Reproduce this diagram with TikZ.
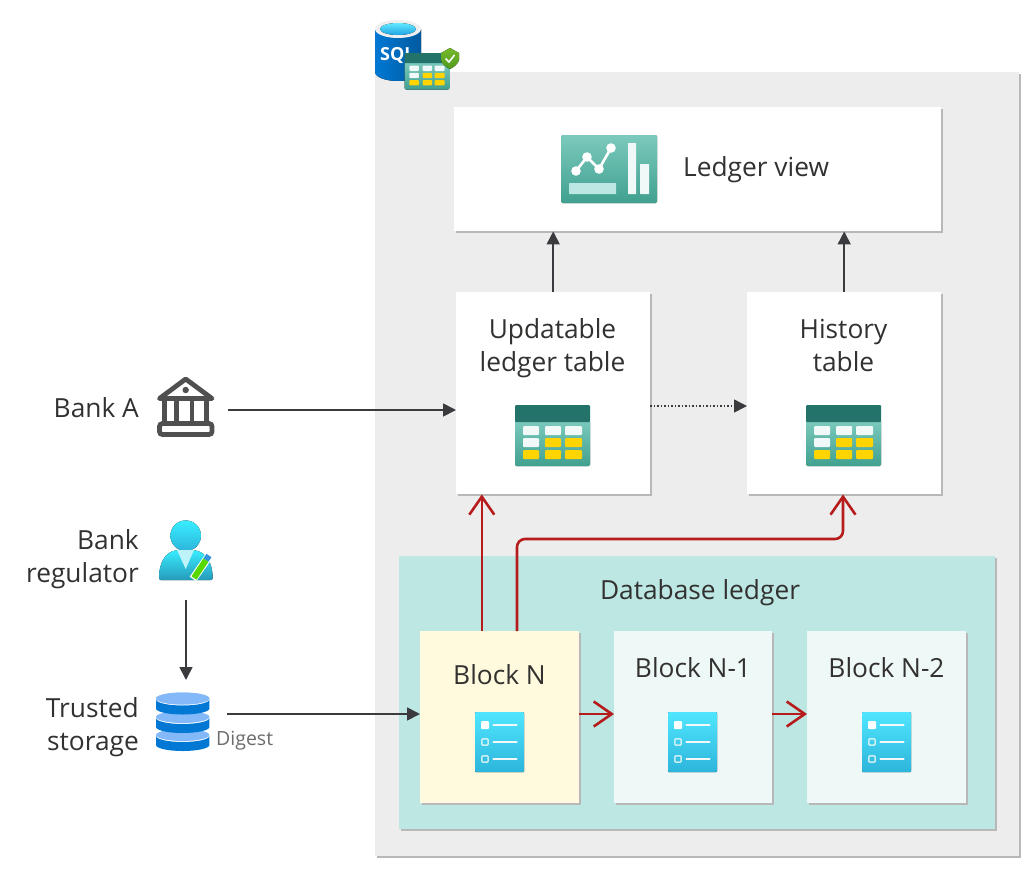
\documentclass[tikz,border=0pt]{standalone}
\usepackage{fontspec}
\setmainfont{Open Sans}
\usepackage{tikz}
\usetikzlibrary{calc,positioning,arrows.meta,shadows}

\definecolor{panelgrey}{HTML}{EDEDED}
\definecolor{edgegrey}{HTML}{B8B8B8}
\definecolor{ledgerteal}{HTML}{BCE7E2}
\definecolor{blockcream}{HTML}{FFF9DE}
\definecolor{blockpale}{HTML}{EEF8F6}
\definecolor{inkgrey}{HTML}{323130}
\definecolor{arrowgrey}{HTML}{3B3A3F}
\definecolor{linkred}{HTML}{B71C1C}
\definecolor{tabledark}{HTML}{23736A}
\definecolor{tabletop}{HTML}{7CCABD}
\definecolor{tablelow}{HTML}{40A090}
\definecolor{cellyellow}{HTML}{FFD400}
\definecolor{cellwhite}{HTML}{F0F9F7}
\definecolor{listtop}{HTML}{50E6FF}
\definecolor{listlow}{HTML}{2DB5DB}
\definecolor{azureblue}{HTML}{0078D4}
\definecolor{azurelight}{HTML}{83B9F9}
\definecolor{shieldtop}{HTML}{76B82A}
\definecolor{shieldlow}{HTML}{4F9A1E}
\definecolor{bankgrey}{HTML}{505050}

\begin{document}
\begin{tikzpicture}[x=1pt,y=-1pt]
\tikzset{panel/.style={rectangle,anchor=north west,inner sep=0,fill=white,
    drop shadow={shadow xshift=1.5pt,shadow yshift=-1.5pt,fill=edgegrey,opacity=1}},
blocklabel/.style={font=\fontsize{26.3}{33.5}\selectfont,text=inkgrey,align=center,inner sep=0},
sidelabel/.style={blocklabel,align=right,anchor=east},
darkarrow/.style={draw=arrowgrey,line width=1.7pt,-{Triangle[length=13pt,width=13pt]}},
redarrow/.style={draw=linkred,line width=2.6pt,-{Straight Barb[length=18pt,width=25pt,line width=2.6pt]}},
iconbox/.style={rectangle,inner sep=0,minimum width=60pt,minimum height=60pt},
pics/gridicon/.style={code={
  \fill[rounded corners=1.5pt,top color=tabletop,bottom color=tablelow] (0,15) rectangle (75,61);
  \fill[tabledark,rounded corners=1pt] (0,0) rectangle (75,17);
  \foreach \cl/\cr/\ct/\cb/\cc in {8/24/21/30/cellwhite,30/46/21/30/cellwhite,50/67/21/30/cellwhite,
    8/24/33/42/cellwhite,30/46/33/42/cellyellow,50/67/33/42/cellyellow,
    8/24/45/54/cellyellow,30/46/45/54/cellyellow,50/67/45/54/cellyellow}
    \fill[\cc,rounded corners=1pt] (\cl,\ct) rectangle (\cr,\cb);
}},
pics/listicon/.style={code={
  \fill[rounded corners=1pt,top color=listtop,bottom color=listlow] (0,0) rectangle (49,60);
  \fill[white,rounded corners=1pt] (6,9) rectangle (14,17);
  \foreach \ry in {30,47}
    \draw[cellwhite,opacity=.8,line width=1.5pt,rounded corners=1pt] (6.8,\ry-3.2) rectangle (13.2,\ry+3.2);
  \foreach \ry in {13,30,47}
    \draw[cellwhite,line width=2.4pt,line cap=round] (18.5,\ry) -- (41.5,\ry);
}}}

%% Panels
\node (sqlpanel) [panel,fill=panelgrey,minimum width=644pt,minimum height=784pt] at (375,72) {};
\node (ledgerview) [panel,minimum width=487pt,minimum height=124pt] at (454,107) {};
\node (updatable) [panel,minimum width=194pt,minimum height=202pt] at (456,292) {};
\node (history) [panel,minimum width=194pt,minimum height=202pt] at (747,292) {};
\node (dbledger) [panel,fill=ledgerteal,minimum width=596pt,minimum height=273pt] at (399,556) {};
\node (blockn) [panel,fill=blockcream,minimum width=159pt,minimum height=172pt] at (420,631) {};
\node (blocknone) [panel,fill=blockpale,minimum width=158pt,minimum height=172pt] at (614,631) {};
\node (blockntwo) [panel,fill=blockpale,minimum width=159pt,minimum height=172pt] at (807,631) {};

%% Labels
\node (lview) [blocklabel,anchor=west] at (683,169.5) {Ledger view};
\node (lupd) [blocklabel] at (552.5,348) {Updatable\\ledger table};
\node (lhist) [blocklabel] at (843.5,345.5) {History\\table};
\node (ldb) [blocklabel] at (700,592.5) {Database ledger};
\node (lblockn) [blocklabel] at (499.5,675) {Block N};
\node (lblocknone) [blocklabel] at (693,668) {Block N-1};
\node (lblockntwo) [blocklabel] at (886.5,668) {Block N-2};
\node (lbank) [sidelabel] at (139,408) {Bank A};
\node (lreg) [sidelabel] at (139,559) {Bank\\regulator};
\node (ltrust) [sidelabel] at (139,727) {Trusted\\storage};
\node (ldigest) [inner sep=0,anchor=west,text=gray!85!black,font=\fontsize{19.5}{22}\selectfont] at (216,741) {Digest};

%% Icons
\pic at (515,405) {gridicon};
\pic at (806,405) {gridicon};
\foreach \ix in {475,668,862} \pic at (\ix,712) {listicon};

% sql badge
\fill[left color=azureblue,right color=azureblue!75!black] (375,29) -- (375,72) arc[start angle=180,end angle=0,x radius=23,y radius=9] -- (421,29) -- cycle;
\fill[panelgrey!90!white] (398,29) ellipse[x radius=23,y radius=9];
\fill[top color=listtop!90!white,bottom color=azureblue!60!listtop] (398,29) ellipse[x radius=18,y radius=6];
\node (sqltext) [inner sep=0,anchor=west,text=white,font=\bfseries\fontsize{18}{20}\selectfont] at (380,55) {SQL};
\pic[scale=.6] at (404.5,53) {gridicon};
\fill[top color=shieldtop,bottom color=shieldlow] (441,53) -- (450,48) -- (459,53) -- (459,60) .. controls (458,64) and (454,67) .. (450,69) .. controls (446,67) and (442,64) .. (441,60) -- cycle;
\draw[white,line width=1.6pt] (445.5,58.5) -- (449,62) -- (454.5,55);

% chart
\fill[rounded corners=1.5pt,top color=tabletop,bottom color=tablelow] (561,135) rectangle (657,203);
\fill[ledgerteal,rounded corners=.5pt] (569,183) rectangle (616,194);
\fill[cellwhite,rounded corners=.5pt] (628,143) rectangle (636,194);
\fill[cellwhite,rounded corners=.5pt] (640,164) rectangle (649,194);
\draw[white,line width=2.6pt] (576,171) -- (587,157) -- (599,169) -- (611,148);
\foreach \dx/\dy in {576/171,587/157,599/169,611/148} \fill[white] (\dx,\dy) circle (4.8);

% bank
\node (bankicon) [iconbox] at (186,406) {};
\draw[bankgrey,line width=4.8pt,line join=round] (159.5,398.5) -- (185.7,379) -- (212,398.5) -- cycle;
\fill[bankgrey] (185.7,390) circle (3.2);
\foreach \cx in {164.5,176.5,192,206.5} \draw[bankgrey,line width=4.6pt] (\cx,400) -- (\cx,422);
\draw[bankgrey,line width=4.8pt,rounded corners=3pt] (159.5,423.5) rectangle (212,434.5);

% regulator
\node (regicon) [iconbox] at (186,555) {};
\fill[top color=listtop!70!cyan,bottom color=listlow] (185.7,535.7) circle (15.3);
\fill[top color=listtop!70!cyan,bottom color=listlow!85!black,rounded corners=2pt] (159,580) .. controls (159,563) and (165,552) .. (178,550) -- (193,550) .. controls (206,552) and (212.7,563) .. (212.7,580) -- cycle;
\fill[blockpale!70!listtop] (177,550) -- (194,550) -- (185.7,569) -- cycle;
\draw[white,line width=8pt] (193,579) -- (209,556);
\draw[green!60!yellow!85!black,line width=6pt] (194,578) -- (206,560);
\draw[azureblue!80!white,line width=6pt] (206,560) -- (209,555.5);

% storage
\node (storeicon) [iconbox] at (182.5,722) {};
\foreach \ly in {729,711,692.5} {
  \fill[azurelight] (182.7,\ly+6) ellipse[x radius=26.7,y radius=6];
  \fill[azureblue] (156,\ly+7) arc[start angle=180,end angle=0,x radius=26.7,y radius=6] -- (209.4,\ly+16) arc[start angle=0,end angle=180,x radius=26.7,y radius=6] -- cycle;
}
\foreach \ly in {692.5} \fill[azurelight] (182.7,\ly+6) ellipse[x radius=26.7,y radius=6];

%% Edges
\coordinate (bankstart) at (228,410);
\coordinate (dotstart) at (650,406);
\coordinate (regstart) at (186,600);
\coordinate (regend) at (186,680);
\coordinate (storestart) at (227,714);
\coordinate (redone) at (481.8,631);
\coordinate (redtwo) at (517,631);
\coordinate (redturn) at (843,539);

\draw[darkarrow] (updatable.north) -- (updatable.north |- ledgerview.south);
\draw[darkarrow] (history.north) -- (history.north |- ledgerview.south);
\draw[darkarrow] (bankstart) -- (bankstart -| updatable.west);
\draw[darkarrow] (regstart) -- (regend);
\draw[darkarrow] (storestart) -- (storestart -| blockn.west);
\draw[arrowgrey,line width=1.5pt,dotted,-{Triangle[length=13pt,width=13pt]}] (dotstart) -- (dotstart -| history.west);

\draw[redarrow] (redone) -- (redone |- updatable.south);
\draw[redarrow,rounded corners=8pt] (redtwo) |- (redturn) -- (redturn |- history.south);
\coordinate (redmid) at (blockn.east |- storestart);
\draw[redarrow] (redmid) -- (redmid -| blocknone.west);
\coordinate (redmidb) at (blocknone.east |- storestart);
\draw[redarrow] (redmidb) -- (redmidb -| blockntwo.west);

\useasboundingbox (0,0) rectangle (1033,868);
\end{tikzpicture}
\end{document}
